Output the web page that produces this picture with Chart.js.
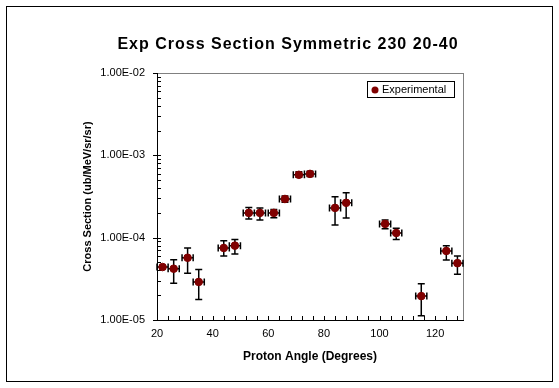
<!DOCTYPE html>
<html>
<head>
<meta charset="utf-8">
<script src="https://cdn.jsdelivr.net/npm/chart.js@4/dist/chart.umd.min.js"></script>
<style>
  body { margin: 0; background: #fff; }
  canvas { display: block; }
</style>
</head>
<body>
<canvas id="chart" width="559" height="388"></canvas>
<script>
// data
let angles = [22, 26, 31, 35, 44, 48, 53, 57, 62, 66, 71, 75, 84, 88, 102, 106, 115, 124, 128];
let xs = [4.4e-5, 4.2e-5, 5.7e-5, 2.9e-5, 7.5e-5, 8.0e-5, 2.0e-4, 2.0e-4, 2.0e-4, 2.95e-4, 5.8e-4, 5.95e-4, 2.3e-4, 2.65e-4, 1.47e-4, 1.14e-4, 1.95e-5, 6.9e-5, 4.9e-5];
let xsHigh = [4.6e-5, 5.4e-5, 7.5e-5, 4.1e-5, 9.2e-5, 9.5e-5, 2.33e-4, 2.3e-4, 2.2e-4, 3.2e-4, 6.3e-4, 6.4e-4, 3.13e-4, 3.5e-4, 1.64e-4, 1.30e-4, 2.75e-5, 8.0e-5, 6.0e-5];
let xsLow = [4.2e-5, 2.8e-5, 3.7e-5, 1.77e-5, 6.0e-5, 6.35e-5, 1.69e-4, 1.64e-4, 1.74e-4, 2.7e-4, 5.4e-4, 5.55e-4, 1.43e-4, 1.73e-4, 1.28e-4, 9.5e-5, 1.13e-5, 5.35e-5, 3.6e-5];
let angleErr = [2, 2, 2, 2, 2, 2, 2, 2, 2, 2, 2, 2, 2, 2, 2, 2, 2, 2, 2];

let xTicks = [20, 40, 60, 80, 100, 120];
let yTicks = [1e-5, 1e-4, 1e-3, 1e-2];

let FONT = "'Liberation Sans', Arial, sans-serif";

let points = angles.map((a, i) => ({ x: a, y: xs[i] }));

let frame = {
    id: "frame",
    beforeDraw(chart) {
        let ctx = chart.ctx;
        let a = chart.chartArea;
        ctx.save();
        ctx.fillStyle = "#fff";
        ctx.fillRect(0, 0, chart.width, chart.height);
        ctx.strokeStyle = "#000";
        ctx.lineWidth = 1;
        ctx.strokeRect(6.5, 6.5, 546, 375);
        ctx.strokeStyle = "#808080";
        ctx.strokeRect(a.left + 0.5, a.top + 0.5, a.right - a.left, a.bottom - a.top);
        ctx.restore();
    },
    beforeDatasetsDraw(chart) {
        let ctx = chart.ctx;
        let xs_ = chart.scales.x;
        let ys_ = chart.scales.y;
        let a = chart.chartArea;
        ctx.save();
        ctx.strokeStyle = "#000";
        ctx.lineWidth = 1;
        ctx.beginPath();
        // x ticks, every 4 degrees, inward
        for (let v = 20; v <= 130; v += 4) {
            let px = Math.round(xs_.getPixelForValue(v)) + 0.5;
            ctx.moveTo(px, a.bottom);
            ctx.lineTo(px, a.bottom - 4);
        }
        // y ticks, decades crossing the axis, minors inward
        for (let d = -5; d < -2; d++) {
            for (let m = 1; m <= 9; m++) {
                let py = Math.round(ys_.getPixelForValue(m * Math.pow(10, d))) + 0.5;
                if (m === 1) {
                    ctx.moveTo(a.left - 4, py);
                    ctx.lineTo(a.left + 4, py);
                } else {
                    ctx.moveTo(a.left, py);
                    ctx.lineTo(a.left + 4, py);
                }
            }
        }
        let top = Math.round(ys_.getPixelForValue(1e-2)) + 0.5;
        ctx.moveTo(a.left - 4, top);
        ctx.lineTo(a.left, top);
        ctx.stroke();

        // error bars
        ctx.lineWidth = 1.5;
        ctx.beginPath();
        for (let i = 0; i < angles.length; i++) {
            let px = xs_.getPixelForValue(angles[i]);
            let py = ys_.getPixelForValue(xs[i]);
            let yh = ys_.getPixelForValue(xsHigh[i]);
            let yl = ys_.getPixelForValue(xsLow[i]);
            let xl = xs_.getPixelForValue(angles[i] - angleErr[i]);
            let xh = xs_.getPixelForValue(angles[i] + angleErr[i]);
            ctx.moveTo(px, yh); ctx.lineTo(px, yl);
            ctx.moveTo(px - 3.5, yh); ctx.lineTo(px + 3.5, yh);
            ctx.moveTo(px - 3.5, yl); ctx.lineTo(px + 3.5, yl);
            ctx.moveTo(xl, py); ctx.lineTo(xh, py);
            ctx.moveTo(xl, py - 3.5); ctx.lineTo(xl, py + 3.5);
            ctx.moveTo(xh, py - 3.5); ctx.lineTo(xh, py + 3.5);
        }
        ctx.stroke();
        ctx.restore();
    },
    afterDraw(chart) {
        let ctx = chart.ctx;
        ctx.save();
        // title
        ctx.fillStyle = "#000";
        ctx.font = "bold 16px " + FONT;
        ctx.letterSpacing = "1px";
        ctx.textAlign = "center";
        ctx.textBaseline = "middle";
        ctx.fillText("Exp Cross Section Symmetric 230 20-40", 288, 45);
        ctx.letterSpacing = "0px";

        // legend box
        ctx.fillStyle = "#fff";
        ctx.fillRect(367, 81, 87, 16);
        ctx.strokeStyle = "#000";
        ctx.lineWidth = 1;
        ctx.strokeRect(367.5, 81.5, 87, 16);
        ctx.fillStyle = "#800000";
        ctx.beginPath();
        ctx.arc(375, 90, 3.5, 0, Math.PI * 2);
        ctx.fill();
        ctx.fillStyle = "#000";
        ctx.font = "11px " + FONT;
        ctx.textAlign = "left";
        ctx.fillText(chart.data.datasets[0].label, 382, 90);
        ctx.restore();
    }
};

new Chart(document.getElementById("chart"), {
    type: "scatter",
    data: {
        datasets: [{
            label: "Experimental",
            data: points,
            pointRadius: 3.8,
            pointHoverRadius: 3.8,
            pointBackgroundColor: "#800000",
            pointBorderColor: "#800000",
            pointBorderWidth: 1
        }]
    },
    options: {
        responsive: false,
        devicePixelRatio: 1,
        animation: false,
        layout: { padding: { left: 0, top: 73, right: 96, bottom: 0 } },
        plugins: {
            legend: { display: false },
            title: { display: false },
            tooltip: { enabled: false }
        },
        scales: {
            x: {
                type: "linear",
                min: 20,
                max: 130,
                afterFit(s) { s.height = 68; },
                afterBuildTicks(s) { s.ticks = xTicks.map(v => ({ value: v })); },
                grid: { display: false, drawTicks: false },
                border: { display: true, color: "#000", width: 1 },
                ticks: {
                    color: "#000",
                    padding: 7,
                    maxRotation: 0,
                    font: { family: FONT, size: 11 }
                },
                title: {
                    display: true,
                    text: "Proton Angle (Degrees)",
                    color: "#000",
                    font: { family: FONT, size: 12, weight: "bold" },
                    padding: { top: 0, bottom: 24 }
                }
            },
            y: {
                type: "logarithmic",
                min: 1e-5,
                max: 1e-2,
                afterFit(s) { s.width = 157; },
                afterBuildTicks(s) { s.ticks = yTicks.map(v => ({ value: v })); },
                grid: { display: false, drawTicks: false },
                border: { display: true, color: "#000", width: 1 },
                ticks: {
                    color: "#000",
                    padding: 12,
                    font: { family: FONT, size: 11 },
                    callback: v => v.toExponential(2).toUpperCase().replace(/E([+-])(\d)$/, "E$10$2").replace("E+", "E")
                },
                title: {
                    display: true,
                    text: "Cross Section (ub/MeV/sr/sr)",
                    color: "#000",
                    font: { family: FONT, size: 11, weight: "bold" },
                    padding: { top: 81, bottom: 0 }
                }
            }
        }
    },
    plugins: [frame]
});
</script>
</body>
</html>
